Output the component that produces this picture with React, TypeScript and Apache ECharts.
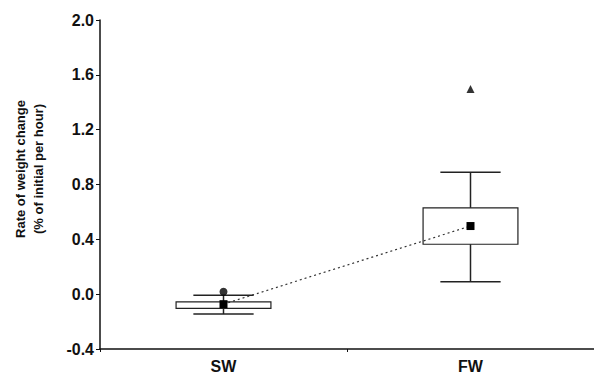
import React, { useEffect, useRef } from "react";
import * as echarts from "echarts";

const categories = ["SW", "FW"];
// [categoryIndex, whiskerLow, boxLow, boxHigh, whiskerHigh]
const boxes = [
  [0, -0.145, -0.104, -0.056, -0.007],
  [1, 0.09, 0.364, 0.63, 0.89],
];
const means = [-0.073, 0.497];
const extremes = [[0, 0.017]];
const outliers = [[1, 1.496]];
const yTicks = { min: -0.4, max: 2.0, interval: 0.4 };
const yTitle = ["Rate of weight change", "(% of initial per hour)"];

export default function App() {
  const ref = useRef<HTMLDivElement>(null);
  useEffect(() => {
    const chart = echarts.init(ref.current!, null, { renderer: "svg" });
    const font = "Liberation Sans, Arial, sans-serif";
    chart.setOption({
      animation: false,
      backgroundColor: "#ffffff",
      grid: { left: 100, top: 20, width: 500, height: 330 },
      xAxis: {
        type: "category",
        data: categories,
        boundaryGap: true,
        axisLine: { onZero: false, lineStyle: { color: "#111", width: 1.5 } },
        axisTick: { show: true, length: 3, lineStyle: { color: "#111" } },
        axisLabel: { color: "#111", fontWeight: "bold", fontSize: 16, fontFamily: font, margin: 9 },
        splitLine: { show: false },
      },
      yAxis: {
        type: "value",
        min: yTicks.min,
        max: yTicks.max,
        interval: yTicks.interval,
        axisLine: { show: true, onZero: false, lineStyle: { color: "#111", width: 1.5 } },
        axisTick: { show: true, length: 4, lineStyle: { color: "#111" } },
        axisLabel: {
          color: "#111",
          fontWeight: "bold",
          fontSize: 16,
          fontFamily: font,
          margin: 6,
          formatter: (v: number) => v.toFixed(1),
        },
        splitLine: { show: false },
      },
      graphic: [
        {
          type: "text",
          x: 29,
          y: 169,
          rotation: Math.PI / 2,
          style: {
            text: yTitle[0] + "\n" + yTitle[1],
            font: "bold 13px " + font,
            fill: "#111",
            textAlign: "center",
            textVerticalAlign: "middle",
            lineHeight: 18,
          },
        },
      ],
      series: [
        {
          type: "custom",
          data: boxes,
          z: 2,
          renderItem: (params: any, api: any) => {
            const idx = api.value(0);
            const lo = api.coord([idx, api.value(1)]);
            const q1 = api.coord([idx, api.value(2)]);
            const q3 = api.coord([idx, api.value(3)]);
            const hi = api.coord([idx, api.value(4)]);
            const band = api.size([1, 0])[0];
            const bw = band * 0.384;
            const cw = band * 0.244;
            const cx = lo[0];
            const stroke = { stroke: "#222", lineWidth: 1.5 };
            return {
              type: "group",
              children: [
                { type: "line", shape: { x1: cx, y1: q3[1], x2: cx, y2: hi[1] }, style: stroke },
                { type: "line", shape: { x1: cx, y1: q1[1], x2: cx, y2: lo[1] }, style: stroke },
                { type: "line", shape: { x1: cx - cw / 2, y1: hi[1], x2: cx + cw / 2, y2: hi[1] }, style: stroke },
                { type: "line", shape: { x1: cx - cw / 2, y1: lo[1], x2: cx + cw / 2, y2: lo[1] }, style: stroke },
                {
                  type: "rect",
                  shape: { x: cx - bw / 2, y: q3[1], width: bw, height: q1[1] - q3[1] },
                  style: { fill: "none", stroke: "#222", lineWidth: 1.2 },
                },
              ],
            };
          },
        },
        {
          type: "line",
          data: means,
          z: 3,
          symbol: "rect",
          symbolSize: 8,
          itemStyle: { color: "#000" },
          lineStyle: { color: "#333", width: 1.2, type: [2, 3] },
        },
        {
          type: "scatter",
          data: extremes,
          z: 4,
          symbol: "circle",
          symbolSize: 8,
          itemStyle: { color: "#000" },
        },
        {
          type: "scatter",
          data: outliers,
          z: 4,
          symbol: "triangle",
          symbolSize: 8,
          itemStyle: { color: "#000" },
        },
      ],
    });
    return () => chart.dispose();
  }, []);
  return (
    <div
      ref={ref}
      style={{ position: "fixed", left: 0, top: 0, width: 594, height: 374, background: "#fff" }}
    />
  );
}
